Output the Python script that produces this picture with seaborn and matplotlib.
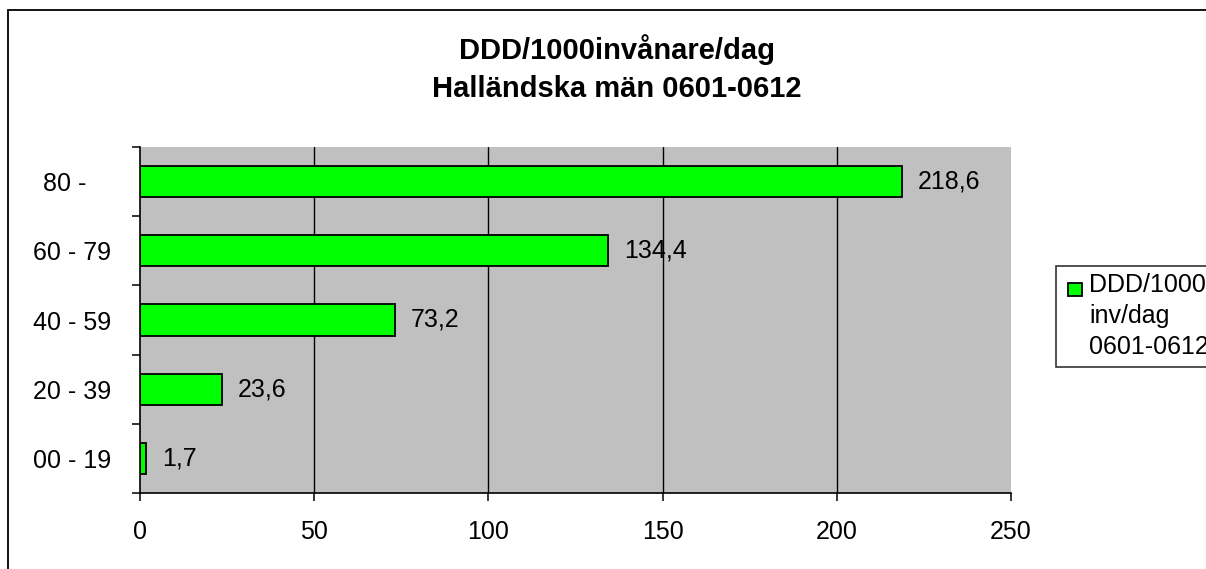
import matplotlib
matplotlib.use("Agg")
import matplotlib.pyplot as plt
from matplotlib.patches import Rectangle
from matplotlib.legend_handler import HandlerPatch
import seaborn as sns
import pandas as pd

# ---- data ----
categories = ["80 -  ", "60 - 79", "40 - 59", "20 - 39", "00 - 19"]
values = [218.6, 134.4, 73.2, 23.6, 1.7]
value_labels = ["218,6", "134,4", "73,2", "23,6", "1,7"]
x_ticks = [0, 50, 100, 150, 200, 250]
series_name = "DDD/1000\ninv/dag\n0601-0612"
title = "DDD/1000invånare/dag\nHalländska män 0601-0612"

sns.set_style("white")
plt.rcParams["font.family"] = ["Liberation Sans", "DejaVu Sans"]
for k in ["text.color", "axes.labelcolor", "xtick.color", "ytick.color"]:
    plt.rcParams[k] = "black"

W, H = 1206, 569
DPI = 100
fig = plt.figure(figsize=(W / DPI, H / DPI), dpi=DPI)
ax = fig.add_axes([140 / W, 1 - 493 / H, 871 / W, 346 / H])

df = pd.DataFrame({"group": categories, "value": values, "series": series_name})
sns.barplot(data=df, x="value", y="group", hue="series", orient="h",
            palette=["#00FF00"], edgecolor="black", linewidth=1.3,
            width=0.45, ax=ax, saturation=1)

ax.set_facecolor("#C0C0C0")
ax.set_xlim(0, 250)
ax.set_ylim(4.5, -0.5)
ax.set_xlabel("")
ax.set_ylabel("")
for s in ["top", "right"]:
    ax.spines[s].set_visible(False)
for s in ["left", "bottom"]:
    ax.spines[s].set_color("black")
    ax.spines[s].set_linewidth(1.2)

ax.set_xticks(x_ticks)
ax.set_xticklabels([str(t) for t in x_ticks])
ax.tick_params(axis="x", direction="out", length=6, width=1.1, color="black",
               labelsize=18, pad=13.5, bottom=True, labelcolor="black")
ax.grid(axis="x", color="black", linewidth=1.0)
ax.xaxis.get_gridlines()[0].set_visible(False)
ax.xaxis.get_gridlines()[-1].set_visible(False)

ax.set_yticks(range(len(categories)))
ax.set_yticklabels(categories)
ax.set_yticks([i - 0.5 for i in range(len(categories) + 1)], minor=True)
ax.tick_params(axis="y", which="major", length=0, labelsize=18, pad=49,
               labelcolor="black")
ax.tick_params(axis="y", which="minor", direction="out", length=6, width=1.1,
               color="black", left=True)
for lab in ax.get_yticklabels():
    lab.set_horizontalalignment("center")

for c in ax.containers:
    ax.bar_label(c, labels=value_labels, padding=11.5, fontsize=18,
                 color="black")

# legend: square handle aligned with the first line of the label
def first_line_square(legend, orig_handle, xdescent, ydescent, width, height,
                      fontsize):
    w, h = 10.0, 9.4
    dy = 19.6
    return Rectangle((-xdescent + width - w, -ydescent + height / 2 - h / 2 + dy),
                     w, h)

leg = ax.legend(loc="upper left", bbox_to_anchor=(1056 / W, 1 - 266 / H),
                bbox_transform=fig.transFigure, borderaxespad=0,
                fontsize=18, frameon=True, fancybox=False, shadow=False,
                handlelength=0.74, handleheight=0.5, handletextpad=0.29,
                borderpad=0.3, edgecolor="black",
                handler_map={Rectangle: HandlerPatch(patch_func=first_line_square)})
leg.get_frame().set_linewidth(1.2)
for t in leg.get_texts():
    t.set_linespacing(1.36)
    t.set_color("black")

fig.text(617 / W, 1 - 68.5 / H, title, ha="center", va="center",
         fontsize=21, fontweight="bold", linespacing=1.48, color="black")

# outer chart border
fig.patches.append(Rectangle((8 / W, -0.1), 1.2, 1.1 - 10 / H,
                             transform=fig.transFigure, fill=False,
                             edgecolor="black", linewidth=1.3))

fig.savefig("out.png", dpi=DPI)
